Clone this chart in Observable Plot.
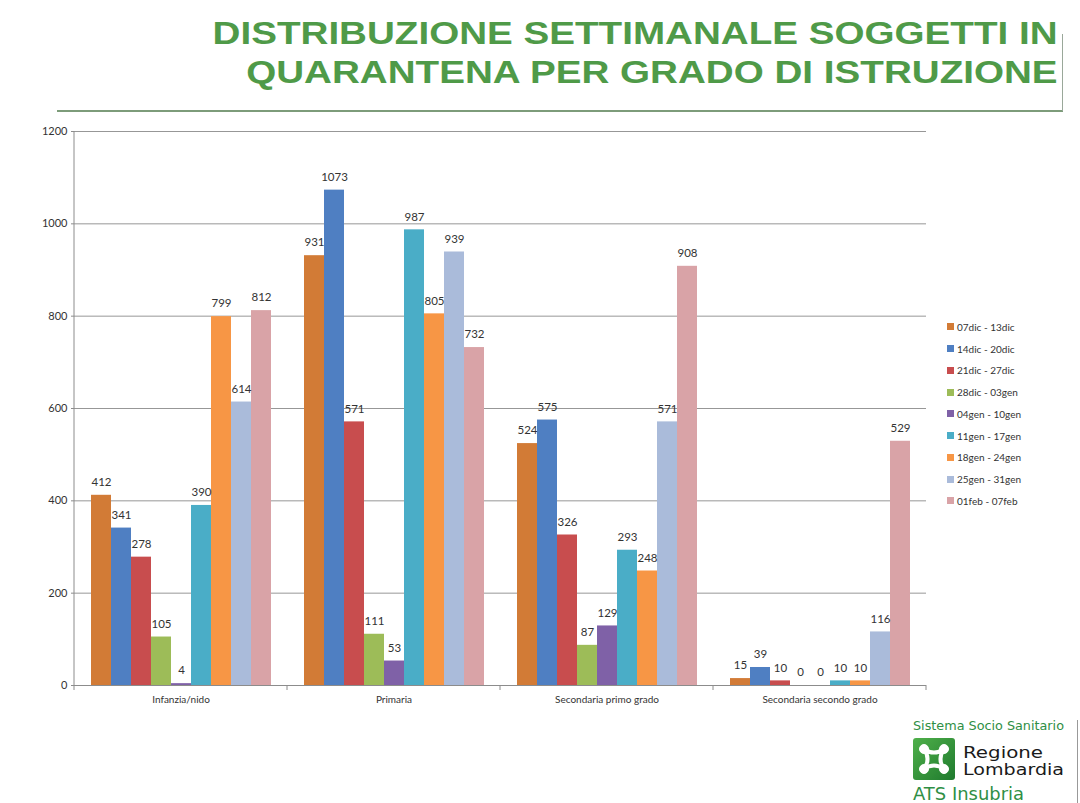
<!DOCTYPE html>
<html>
<head>
<meta charset="utf-8">
<script src="https://cdn.jsdelivr.net/npm/d3@7"></script>
<script src="https://cdn.jsdelivr.net/npm/@observablehq/plot@0.6"></script>
<style>
  html, body { margin: 0; padding: 0; background: #fff; }
  #page { position: relative; width: 1080px; height: 803px; overflow: hidden; background: #fff; font-family: Lato, "Open Sans", sans-serif; }
  #chart { position: absolute; left: 0; top: 0; }
  .title { position: absolute; right: 22px; font-family: "Liberation Sans", Arial, sans-serif; font-weight: bold; color: #4f9a48; font-size: 31px; white-space: nowrap; transform-origin: right center; line-height: 1; }
  #rule-h { position: absolute; left: 57px; top: 110px; width: 1006px; height: 2px; background: #7d9c7a; }
  #rule-v { position: absolute; left: 1062px; top: 34px; width: 1px; height: 77px; background: #9aa89a; }
  #legend { position: absolute; left: 947px; top: 316px; font-size: 10px; color: #333; }
  .li { height: 21.75px; display: flex; align-items: center; }
  .sw { width: 7px; height: 7px; margin-right: 3px; }
  #logo { position: absolute; left: 912px; top: 716px; }
  #logo-v { position: absolute; left: 1077px; top: 720px; width: 1px; height: 83px; background: #999; }
</style>
</head>
<body>
<div id="page">
  <div id="chart"></div>
  <div class="title" id="t1" style="top:18px">DISTRIBUZIONE SETTIMANALE SOGGETTI IN</div>
  <div class="title" id="t2" style="top:57px">QUARANTENA PER GRADO DI ISTRUZIONE</div>
  <div id="rule-h"></div>
  <div id="rule-v"></div>
  <div id="legend"></div>
  <div id="logo-v"></div>
  <svg id="logo" width="160" height="87" font-family="'DejaVu Sans', Lato, sans-serif">
    <text x="1" y="14" font-size="12" fill="#2f8f45" textLength="151" lengthAdjust="spacingAndGlyphs">Sistema Socio Sanitario</text>
    <defs>
      <linearGradient id="lg" x1="0" y1="0" x2="1" y2="1">
        <stop offset="0" stop-color="#4fb04a"/>
        <stop offset="1" stop-color="#1f7a2e"/>
      </linearGradient>
    </defs>
    <rect x="1" y="22" width="42" height="42" rx="3" fill="url(#lg)"/>
    <g fill="#fff" stroke="#fff">
      <path d="M12 33 Q22 40 32 33 M12 53 Q22 46 32 53 M12 33 Q19 43 12 53 M32 33 Q25 43 32 53" fill="none" stroke-width="4"/>
      <circle cx="12" cy="33" r="4.5"/>
      <circle cx="32" cy="33" r="4.5"/>
      <circle cx="12" cy="53" r="4.5"/>
      <circle cx="32" cy="53" r="4.5"/>
    </g>
    <text x="51" y="42" font-size="16" fill="#1a1a1a" textLength="80" lengthAdjust="spacingAndGlyphs">Regione</text>
    <text x="51" y="59" font-size="16" fill="#1a1a1a" textLength="101" lengthAdjust="spacingAndGlyphs">Lombardia</text>
    <text x="1" y="84" font-size="18" fill="#2f8f45" textLength="111" lengthAdjust="spacingAndGlyphs">ATS Insubria</text>
  </svg>
</div>
<script>
const categories = ["Infanzia/nido", "Primaria", "Secondaria primo grado", "Secondaria secondo grado"];
const weeks = ["07dic - 13dic", "14dic - 20dic", "21dic - 27dic", "28dic - 03gen", "04gen - 10gen", "11gen - 17gen", "18gen - 24gen", "25gen - 31gen", "01feb - 07feb"];
const colors = ["#d27b36", "#4f7fc2", "#c84d4e", "#9dbc58", "#7f61a7", "#4aadc7", "#f79645", "#aabbda", "#d9a3a7"];
const infanziaNido = [412, 341, 278, 105, 4, 390, 799, 614, 812];
const primaria = [931, 1073, 571, 111, 53, 987, 805, 939, 732];
const secondariaPrimo = [524, 575, 326, 87, 129, 293, 248, 571, 908];
const secondariaSecondo = [15, 39, 10, 0, 0, 10, 10, 116, 529];
const yTicks = [0, 200, 400, 600, 800, 1000, 1200];

const series = [infanziaNido, primaria, secondariaPrimo, secondariaSecondo];
const data = [];
categories.forEach((c, i) => weeks.forEach((w, j) => data.push({cat: c, week: w, value: series[i][j]})));

const plot = Plot.plot({
  width: 1080,
  height: 803,
  marginLeft: 73,
  marginRight: 154,
  marginTop: 131,
  marginBottom: 118,
  style: {fontFamily: "Lato, 'Open Sans', sans-serif", color: "#333", background: "transparent"},
  fx: {domain: categories, padding: 0, axis: null, label: null},
  x: {domain: weeks, paddingInner: 0, paddingOuter: 0.74, axis: null, label: null},
  y: {domain: [0, 1200], axis: null, label: null},
  color: {domain: weeks, range: colors},
  marks: [
    Plot.gridY(yTicks, {stroke: "#8c8c8c", strokeOpacity: 0.9}),
    Plot.axisY(yTicks, {tickSize: 3, tickPadding: 4, fontSize: 11, stroke: "#8c8c8c", fill: "#333", label: null, tickFormat: d => String(d)}),
    Plot.axisFx({anchor: "bottom", tickSize: 0, tickPadding: 10, fontSize: 10, fill: "#333", label: null}),
    Plot.barY(data, {fx: "cat", x: "week", y: "value", fill: "week"}),
    Plot.ruleY([0], {stroke: "#8c8c8c"}),
    Plot.text(data, {fx: "cat", x: "week", y: "value", text: d => String(d.value), dy: -13, fontSize: 11.5, fill: "#333"})
  ]
});
document.getElementById("chart").appendChild(plot);

// axis line and category boundary ticks, from the library's scales
const fx = plot.scale("fx"), y = plot.scale("y");
const svg = d3.select(plot);
const y0 = y.apply(0), y1 = y.apply(1200);
const left = fx.apply(categories[0]);
svg.append("line").attr("x1", left).attr("x2", left).attr("y1", y0).attr("y2", y1).attr("stroke", "#8c8c8c");
const bounds = categories.map(c => fx.apply(c)).concat([fx.apply(categories[categories.length - 1]) + fx.bandwidth]);
bounds.forEach(bx => svg.append("line").attr("x1", bx).attr("x2", bx).attr("y1", y0).attr("y2", y0 + 5).attr("stroke", "#8c8c8c"));

// legend
const legend = d3.select("#legend");
weeks.forEach((w, j) => {
  const row = legend.append("div").attr("class", "li");
  row.append("div").attr("class", "sw").style("background", colors[j]);
  row.append("span").text(w);
});

// fit title width
const t1 = document.getElementById("t1"), t2 = document.getElementById("t2");
const s = 845 / t1.getBoundingClientRect().width;
t1.style.transform = `scaleX(${s})`;
t2.style.transform = `scaleX(${s})`;
</script>
</body>
</html>
